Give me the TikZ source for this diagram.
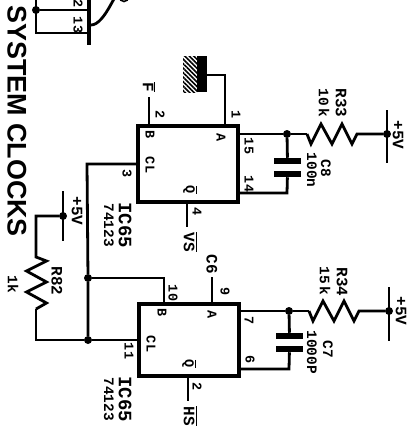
\documentclass[tikz,border=0pt]{standalone}
\usepackage{fontspec}
\setmainfont{Liberation Mono}
\newfontfamily\titlefont{Liberation Sans}
\usetikzlibrary{patterns.meta}

\tikzstyle{icbox}=[
    draw,
    line width=3.8bp,
    minimum width=100bp,
    outer sep=0pt,
  ]
\tikzstyle{wire}=[
    line width=2.8bp,
  ]
\tikzstyle{junction}=[
    circle,
    fill,
    inner sep=0pt,
    minimum size=8bp,
  ]
\tikzstyle{plate}=[
    fill,
    inner sep=0pt,
    outer sep=0pt,
    minimum width=27bp,
    minimum height=6.5bp,
  ]
\tikzstyle{pinnum}=[
    rotate=-90,
    inner sep=0pt,
    font=\fontsize{13.5}{13.5}\selectfont\bfseries,
  ]
\tikzstyle{partlabel}=[
    rotate=-90,
    inner sep=0pt,
    font=\fontsize{16}{16}\selectfont\bfseries,
  ]
\tikzstyle{partvalue}=[
    rotate=-90,
    inner sep=0pt,
    font=\fontsize{14.5}{14.5}\selectfont\bfseries,
  ]
\tikzstyle{icname}=[
    rotate=-90,
    inner sep=0pt,
    font=\fontsize{19}{19}\selectfont\bfseries,
  ]
\newcommand{\zigzagh}[1]{(#1) -- ++(4,10) -- ++(10,-20) -- ++(11,20) -- ++(10,-20) -- ++(10,20) -- ++(5,-10)}

\begin{document}
\begin{tikzpicture}[x=1bp,y=-1bp]
      \useasboundingbox (0,0) rectangle (414,428);
      % title
      \node[rotate=-90,inner sep=0pt,font=\titlefont\fontsize{27}{27}\selectfont\bfseries] (title) at (17,121) {SYSTEM CLOCKS};

      % the two chips
      \node[icbox,minimum height=76bp] (upper) at (188,164) {};
      \node[icbox,minimum height=72bp] (lower) at (189,340) {};
      \foreach \name/\x/\y/\txt in {ub/150/135/B, ucl/150/165/CL, ua/221/138/A, lb/162/313/B, lcl/151/344/CL, la/212/315/A} {%
        \node[pinnum] (\name) at (\x,\y) {\txt};
      }
      \node[pinnum] (uq) at (190,190) {$\overline{\mbox{Q}}$};
      \node[pinnum] (lq) at (189,364) {$\overline{\mbox{Q}}$};
      \node[icname] (uname) at (125,225) {IC65};
      \node[partvalue] (upart) at (109,225) {74123};
      \node[icname] (lname) at (125,399) {IC65};
      \node[partvalue] (lpart) at (109,399) {74123};

      % pin numbers
      \foreach \name/\x/\y/\txt in {p2/160/115/2, p1/236/115/1, p15/249/146/15, p14/249/184/14, p3/127/174/3, p4/197/212/4, p10/173/293/10, p11/129/351/11, p9/225/292/9, p7/249/321/7, p6/250/360/6, pb/197/387/2, p13/78/25/13, p12/78/4/2} {%
        \node[pinnum] (\name) at (\x,\y) {\txt};
      }

      % signal names
      \node[partlabel] (fbar) at (149,87) {$\overline{\mbox{F}}$};
      \coordinate (fend) at (149,97);
      \coordinate (fpin) at (149,126);
      \draw[wire] (fend) -- (fpin);
      \node[partlabel] (vs) at (190,242) {$\overline{\mbox{VS}}$};
      \coordinate (vsend) at (187,227);
      \coordinate (vspin) at (187,202);
      \draw[wire] (vspin) -- (vsend);
      \node[partlabel] (hs) at (190,416) {$\overline{\mbox{HS}}$};
      \coordinate (hsend) at (188,401);
      \coordinate (hspin) at (188,376);
      \draw[wire] (hspin) -- (hsend);
      \node[partlabel] (c6) at (212,264) {C6};
      \coordinate (c6end) at (212,277);
      \coordinate (c6pin) at (212,304);
      \draw[wire] (c6end) -- (c6pin);

      % grounded hatch
      \node[fill,inner sep=0pt,minimum width=10bp,minimum height=36bp] (bar) at (202,74) {};
      \node[inner sep=0pt,minimum width=14bp,minimum height=36bp,pattern={Lines[angle=-45,distance=3.2bp,line width=1.6bp]}] (hatch) at (190,74) {};
      \coordinate (p1top) at (225,75);
      \coordinate (p1pin) at (225,126);
      \draw[wire] (bar.east |- p1top) -- (p1top) -- (p1pin);

      % upper timing network
      \coordinate (n15pin) at (238,134);
      \node[junction] (n15) at (287,134) {};
      \coordinate (r33a) at (307,134);
      \node[junction] (v1) at (387,134) {};
      \coordinate (v1top) at (387,110);
      \coordinate (v1bot) at (387,163);
      \node[plate] (c8a) at (287.5,161) {};
      \node[plate] (c8b) at (287.5,174) {};
      \coordinate (n14) at (287,193);
      \coordinate (n14pin) at (238,193);
      \draw[wire] (n15pin) -- (n15) -- (r33a);
      \draw[wire] \zigzagh{r33a} -- (v1);
      \draw[wire] (v1top) -- (v1bot);
      \draw[wire] (n15) -- (c8a);
      \draw[wire] (c8b) -- (n14) -- (n14pin);
      \node[partlabel] (r33) at (341,103) {R33};
      \node[partvalue] (r33v) at (324,103) {10\,k};
      \node[partvalue] (c8) at (326,168) {C8};
      \node[partvalue] (c8v) at (312,170) {100n};
      \node[partlabel] (v1txt) at (398,135) {+5V};

      % lower timing network
      \coordinate (n7pin) at (239,311);
      \node[junction] (n7) at (289,311) {};
      \coordinate (r34a) at (309,311);
      \node[junction] (v2) at (389,311) {};
      \coordinate (v2top) at (389,287);
      \coordinate (v2bot) at (389,341);
      \node[plate] (c7a) at (289.5,336) {};
      \node[plate] (c7b) at (289.5,349) {};
      \coordinate (n6) at (289,369);
      \coordinate (n6pin) at (239,369);
      \draw[wire] (n7pin) -- (n7) -- (r34a);
      \draw[wire] \zigzagh{r34a} -- (v2);
      \draw[wire] (v2top) -- (v2bot);
      \draw[wire] (n7) -- (c7a);
      \draw[wire] (c7b) -- (n6) -- (n6pin);
      \node[partlabel] (r34) at (342,282) {R34};
      \node[partvalue] (r34v) at (325,281) {15\,k};
      \node[partvalue] (c7) at (328,349) {C7};
      \node[partvalue] (c7v) at (312,352) {1000P};
      \node[partlabel] (v2txt) at (401,311) {+5V};

      % clock lines
      \coordinate (u3pin) at (138,164);
      \coordinate (u3turn) at (87,164);
      \node[junction] (j1) at (88,278) {};
      \node[junction] (j2) at (88,340) {};
      \coordinate (l10turn) at (164,278);
      \coordinate (l10pin) at (164,304);
      \coordinate (l11pin) at (139,340);
      \coordinate (rturn) at (36,340);
      \coordinate (r82a) at (36,309);
      \coordinate (rtop) at (36,216);
      \node[junction] (v3) at (63,216) {};
      \coordinate (v3top) at (63,191);
      \coordinate (v3bot) at (63,241);
      \draw[wire] (u3pin) -- (u3turn) -- (j1) -- (j2);
      \draw[wire] (j1) -- (l10turn) -- (l10pin);
      \draw[wire] (l11pin) -- (j2) -- (rturn) -- (r82a);
      \draw[wire] (r82a) -- ++(10.5,-6) -- ++(-20,-11) -- ++(20,-10) -- ++(-20,-11) -- ++(20,-10) -- ++(-10.5,-4) -- (rtop) -- (v3);
      \draw[wire] (v3top) -- (v3bot);
      \node[partlabel] (r82) at (57,281) {R82};
      \node[partvalue] (r82v) at (13,284) {1k};
      \node[partlabel] (v3txt) at (77,211) {+5V};

      % piece of the next circuit
      \coordinate (stub) at (89,-2);
      \coordinate (stubend) at (89,45);
      \coordinate (la1) at (36,-2);
      \node[junction] (j3) at (36,10) {};
      \coordinate (j3pin) at (89,10);
      \coordinate (lb1) at (36,33);
      \coordinate (lb1pin) at (89,33);
      \coordinate (arcstart) at (91,25);
      \coordinate (arcend) at (118,-2);
      \node[draw,circle,line width=1.6bp,inner sep=0pt,minimum size=9bp] (bubble) at (124,-3) {};
      \draw[line width=3.8bp] (stub) -- (stubend);
      \draw[wire] (j3) -- (j3pin);
      \draw[wire] (la1) -- (lb1) -- (lb1pin);
      \draw[wire] (arcstart) to[out=0,in=90] (arcend);
    \end{tikzpicture}
\end{document}
